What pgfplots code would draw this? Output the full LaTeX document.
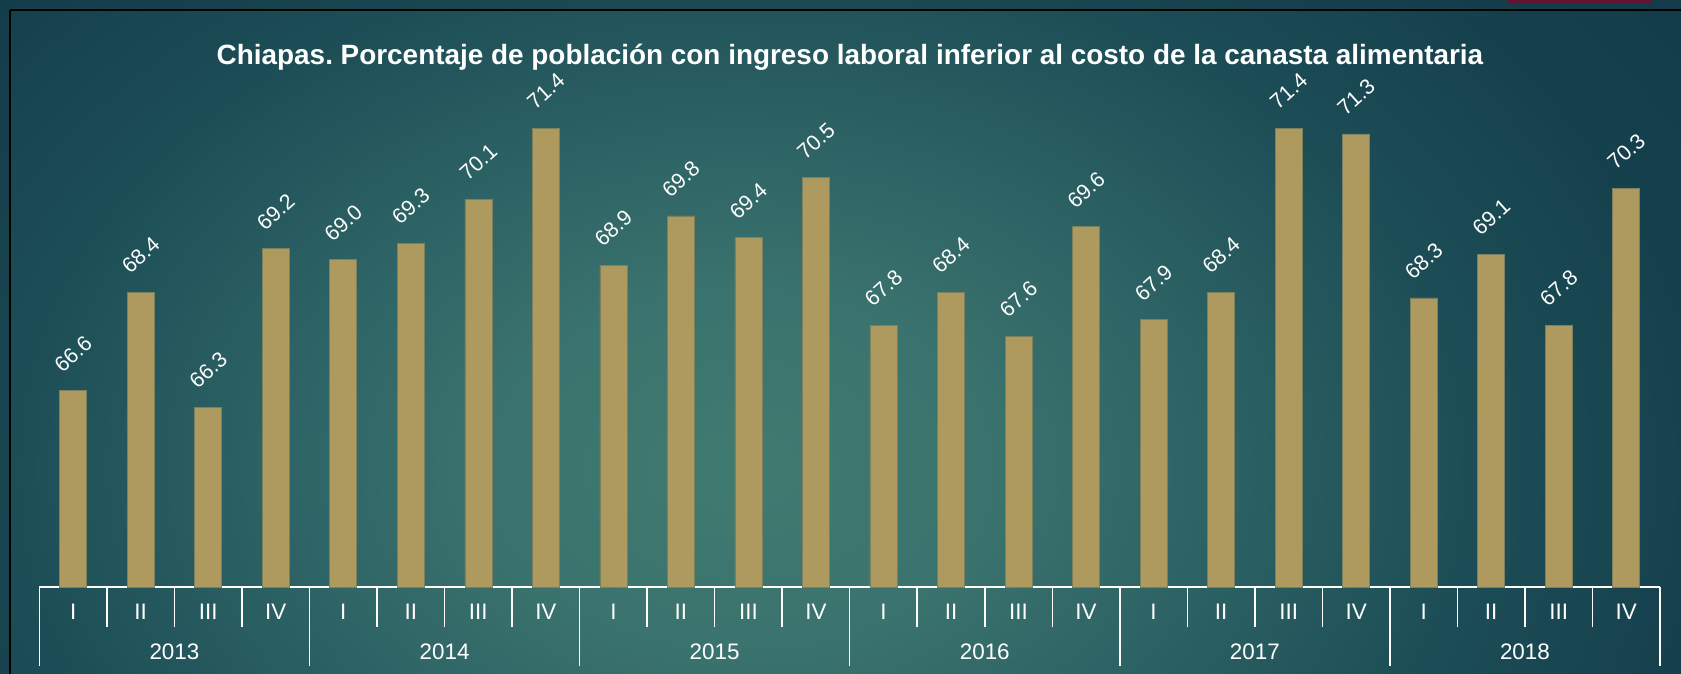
\documentclass[border=0pt]{standalone}
\usepackage{fontspec}
\setmainfont{Liberation Sans}
\usepackage{pgfplots}
\pgfplotsset{compat=1.18}
\definecolor{barc}{RGB}{174,154,94}
\definecolor{baredge}{RGB}{125,128,92}
\definecolor{maroonbar}{RGB}{99,19,51}
\definecolor{outerbg}{RGB}{20,58,70}
\pgfdeclareradialshading{bgshade}{\pgfpoint{0bp}{0bp}}{rgb(0bp)=(0.25,0.48,0.44); rgb(5bp)=(0.23,0.45,0.43); rgb(10bp)=(0.17,0.38,0.39); rgb(15bp)=(0.11,0.30,0.335); rgb(20bp)=(0.08,0.25,0.30); rgb(25bp)=(0.07,0.23,0.29); rgb(50bp)=(0.07,0.23,0.29)}
\begin{document}
\begin{tikzpicture}[x=1bp,y=1bp]
\useasboundingbox (0,0) rectangle (1681,674);
\begin{scope}
\clip (0,0) rectangle (1681,674);
\shade[shading=bgshade] (-495,-676) rectangle (1977,1084);
\fill[outerbg, opacity=0.4] (0,0) rectangle (10,674);
\fill[outerbg, opacity=0.4] (10,664) rectangle (1681,674);
\end{scope}
\draw[black, line width=2bp] (10,664) -- (1681,664);
\draw[black, line width=1.5bp] (10,664) -- (10,0);
\fill[maroonbar] (1508,669.5) rectangle (1652,674);
\node[text=white, anchor=base, font=\fontsize{28}{28}\selectfont\bfseries] at (850,609.7) {\frenchspacing Chiapas. Porcentaje de población con ingreso laboral inferior al costo de la canasta alimentaria};
\begin{axis}[
  at={(39.4bp,86.5bp)}, anchor=south west,
  scale only axis, width=1620.6bp, height=546.5bp,
  xmin=-0.5, xmax=23.5, ymin=63, ymax=73,
  axis y line=none, axis x line*=bottom,
  x axis line style={white, line width=2bp, -},
  ytick=\empty,
  xtick={0,...,23},
  xticklabels={I,II,III,IV,I,II,III,IV,I,II,III,IV,I,II,III,IV,I,II,III,IV,I,II,III,IV},
  major tick length=0pt,
  xticklabel style={font=\fontsize{22.5}{22.5}\selectfont, text=white, anchor=center, yshift=-24.2bp},
  minor xtick={0.5,1.5,2.5,4.5,5.5,6.5,8.5,9.5,10.5,12.5,13.5,14.5,16.5,17.5,18.5,20.5,21.5,22.5},
  minor tick length=39.2bp,
  extra x ticks={-0.5,3.5,7.5,11.5,15.5,19.5,23.5},
  extra x tick labels={},
  extra x tick style={major tick length=78.5bp},
  tick align=outside,
  tick style={white, line width=1.5bp},
  ybar, bar width=0.4,
  clip mode=individual,
  nodes near coords={\pgfmathprintnumber[fixed,fixed zerofill,precision=1,assume math mode=true]{\pgfplotspointmeta}},
  nodes near coords style={font=\fontsize{21.5}{21.5}\selectfont, text=white, anchor=center, yshift=37bp, rotate=42},
]
\addplot[fill=barc, draw=baredge, line width=0.6bp] coordinates {
(0,66.6) (1,68.4) (2,66.3) (3,69.2)
(4,69.0) (5,69.3) (6,70.1) (7,71.4)
(8,68.9) (9,69.8) (10,69.4) (11,70.5)
(12,67.8) (13,68.4) (14,67.6) (15,69.6)
(16,67.9) (17,68.4) (18,71.4) (19,71.3)
(20,68.3) (21,69.1) (22,67.8) (23,70.3)
};
\end{axis}
\begin{scope}[every node/.style={text=white, anchor=center, font=\fontsize{22.5}{22.5}\selectfont}]
\node at (174.45,22.3) {2013};
\node at (444.55,22.3) {2014};
\node at (714.65,22.3) {2015};
\node at (984.75,22.3) {2016};
\node at (1254.85,22.3) {2017};
\node at (1524.95,22.3) {2018};
\end{scope}
\end{tikzpicture}
\end{document}
